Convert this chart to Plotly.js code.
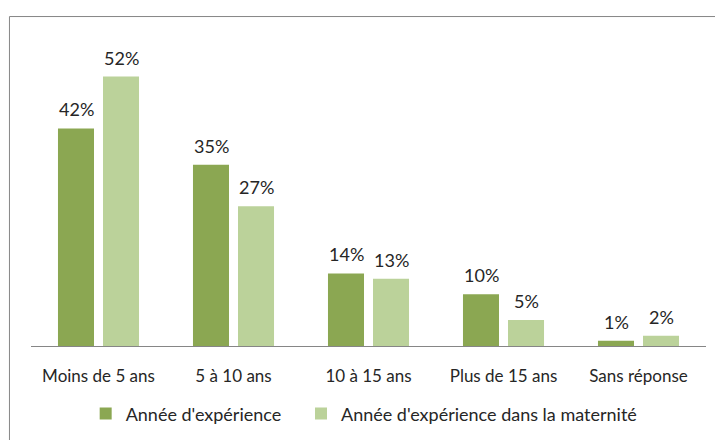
<!DOCTYPE html>
<html><head><meta charset="utf-8">
<script src="https://cdn.plot.ly/plotly-3.0.1.min.js"></script>
<style>body{margin:0;background:#fff}#chart{width:715px;height:440px}</style>
</head><body><div id="chart"></div>
<script>
const categories = ["Moins de 5 ans", "5 à 10 ans", "10 à 15 ans", "Plus de 15 ans", "Sans réponse"];
const experience = [0.42, 0.35, 0.14, 0.10, 0.01];
const experienceMaternite = [0.52, 0.27, 0.13, 0.05, 0.02];
const seriesNames = ["Année d'expérience", "Année d'expérience dans la maternité"];
const colors = ["#8BA752", "#BBD29A"];

const fam = "Lato, 'Liberation Sans', sans-serif";
const tickFont = {family: fam, size: 17, color: "#262626"};
const labelFont = {family: fam, size: 18, color: "#262626"};
const legendFont = {family: fam, size: 18, color: "#262626"};

const mk = (y, name, color, lg) => ({
  type: "bar", x: categories, y: y, name: name, legend: lg,
  marker: {color: color}, hoverinfo: "skip"
});
const data = [
  mk(experience, seriesNames[0], colors[0], "legend"),
  mk(experienceMaternite, seriesNames[1], colors[1], "legend2")
];
const annotations = [];
[experience, experienceMaternite].forEach((arr, s) => {
  arr.forEach((v, i) => {
    annotations.push({
      x: categories[i], y: v, xref: "x", yref: "y",
      text: Math.round(v * 100) + "%", showarrow: false,
      xshift: s === 0 ? -22.5 : 22.5, yshift: 19, yanchor: "middle",
      font: labelFont
    });
  });
});
const legBase = {orientation: "h", y: -0.211, yanchor: "middle", xanchor: "left", font: legendFont, itemwidth: 30};
const layout = {
  width: 715, height: 440,
  margin: {l: 31, r: 9, t: 30, b: 93},
  paper_bgcolor: "#fff", plot_bgcolor: "#fff",
  font: tickFont,
  barmode: "group", bargap: 0.333, bargroupgap: 0.2,
  showlegend: true,
  legend: Object.assign({}, legBase, {x: 0.081}),
  legend2: Object.assign({}, legBase, {x: 0.400}),
  xaxis: {showline: true, linecolor: "#868686", linewidth: 1, ticks: "outside", ticklen: 15, tickcolor: "rgba(0,0,0,0)", tickfont: tickFont, showgrid: false, zeroline: false, fixedrange: true},
  yaxis: {range: [0, 0.61], visible: false, showgrid: false, zeroline: false},
  annotations: annotations,
  shapes: [{type: "rect", xref: "paper", yref: "paper", x0: -0.0319, x1: 1.05, y0: -0.35, y1: 1.0426, line: {color: "#868686", width: 1}, fillcolor: "rgba(0,0,0,0)", layer: "below"}]
};
Plotly.newPlot("chart", data, layout, {displayModeBar: false, staticPlot: true});
</script></body></html>
